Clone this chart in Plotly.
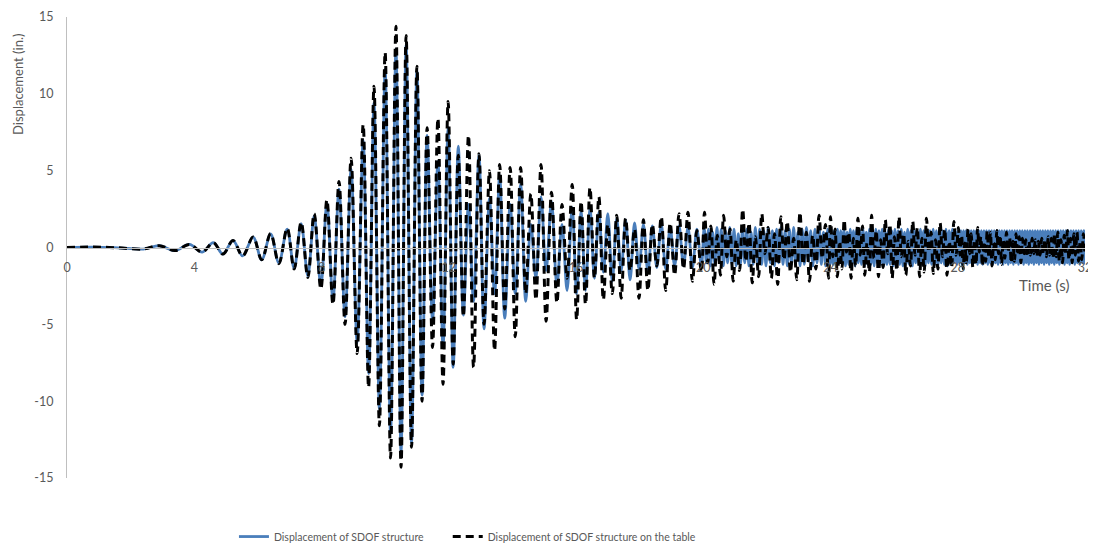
import numpy as np
import plotly.graph_objects as go

# ---------------- data ----------------
# Early part: extrema (peaks / troughs) times in seconds, shared by both series
t_early = [0.0, 0.8, 1.6, 2.4, 2.9, 3.4, 3.85, 4.25, 4.6, 4.9, 5.22, 5.52,
           5.85, 6.12, 6.4, 6.66, 6.92, 7.14, 7.36, 7.57, 7.77, 7.98, 8.17, 8.36,
           8.55, 8.74, 8.93, 9.12, 9.31, 9.48, 9.65, 9.82, 10.0, 10.17, 10.34, 10.5,
           10.66, 10.83, 11.0, 11.16, 11.32, 11.49, 11.66, 11.82, 11.98, 12.14, 12.3, 12.46,
           12.62, 12.78, 12.95, 13.11, 13.28, 13.44, 13.6, 13.76, 13.93, 14.09, 14.26, 14.42,
           14.58, 14.74, 14.9, 15.06, 15.23, 15.4, 15.56, 15.72, 15.88]

table_early = [0, 0.03, -0.02, -0.1, 0.12, -0.2, 0.2, -0.3,
               0.32, -0.43, 0.45, -0.55, 0.68, -0.8, 0.9, -1.05,
               1.25, -1.4, 1.65, -1.95, 2.2, -2.7, 3.1, -3.7,
               4.3, -5.0, 5.8, -6.9, 8.0, -9.1, 10.5, -11.6,
               12.7, -13.7, 14.4, -14.3, 13.8, -13.0, 11.8, -10.0,
               7.8, -6.5, 8.4, -8.9, 9.5, -7.6, 6.0, -4.5,
               7.3, -7.8, 6.1, -5.0, 5.0, -6.7, 5.4, -4.0,
               5.2, -5.8, 5.2, -3.0, 3.5, -3.4, 5.4, -4.8,
               3.6, -3.6, 2.8, -2.0, 4.1]

sdof_early = [0, 0.03, -0.02, -0.1, 0.12, -0.2, 0.2, -0.3,
              0.32, -0.43, 0.45, -0.55, 0.68, -0.8, 0.88, -1.0,
              1.2, -1.35, 1.55, -1.85, 2.05, -2.5, 2.9, -3.4,
              3.8, -4.5, 5.1, -6.2, 7.0, -8.2, 9.4, -10.5,
              11.6, -12.1, 12.9, -13.3, 13.2, -12.7, 11.5, -9.6,
              7.3, -4.8, 5.6, -6.5, 7.8, -7.8, 6.6, -4.4,
              2.8, -3.5, 6.0, -5.3, 3.2, -3.0, 4.7, -4.6,
              2.8, -3.0, 4.1, -3.5, 1.5, -2.0, 3.3, -1.5,
              3.0, -2.5, 1.5, -2.8, 2.6]

# Later, denser parts: extrema read segment by segment (first / last extremum time)
table_seg_first = [16.02, 20.04, 24.0, 28.02]
table_seg_last = [19.94, 23.94, 27.95, 32.0]
sdof_seg_first = [16.02, 20.03, 24.02, 28.02]
sdof_seg_last = [19.94, 23.98, 27.98, 32.0]

table_16 = [-4.7, 3.0, -3.7, 3.9, -2.0, 3.3, -3.4, 1.5, -3.0, 2.1,
            -3.3, 1.9, -1.5, 1.2, -3.3, 1.8, -2.8, 1.5, -1.2, 2.0,
            -2.8, 1.6, -1.8, 2.2, -1.4, 2.3, -2.2, 1.1, -1.6]
sdof_16 = [-3.0, 2.4, -2.8, 2.6, -2.0, 2.3, -1.6, 2.2, -2.2, 1.9,
           -1.5, 1.8, -2.1, 1.6, -1.4, 1.5, -1.6, 1.4, -1.3, 1.5,
           -1.4, 1.3, -1.2, 1.4, -1.2, 1.3, -1.3, 1.2, -1.2]

table_20 = [2.3, -1.0, 1.4, -2.4, 0.8, -1.8, 2.1, -0.6, 1.2, -2.2,
            0.5, -1.5, 2.5, -0.9, 1.6, -2.3, 0.7, -1.9, 2.2, -0.4,
            1.3, -2.0, 0.9, -2.4, 2.0, -0.8, 1.7, -1.6, 0.6, -2.1,
            2.3, -1.1, 1.0, -2.2, 0.8, -1.4, 2.1, -0.7, 1.5, -2.0]
sdof_20 = [1.3, -1.0, 1.2, -1.2, 1.0, -1.1, 1.3, -0.9, 1.2, -1.2,
           1.1, -1.0, 1.3, -1.1, 1.2, -1.2, 0.9, -1.1, 1.3, -1.0,
           1.2, -1.2, 1.0, -1.1, 1.3, -1.0, 1.2, -1.1, 1.1, -1.2,
           1.3, -1.0, 1.1, -1.2, 1.2, -1.0, 1.3, -1.1, 1.1, -1.2,
           1.2, -1.1, 1.3, -1.0, 1.0, -1.2, 1.2, -1.1, 1.3, -0.9,
           1.1, -1.2, 1.2, -1.0, 1.3, -1.1, 1.0, -1.2, 1.2, -1.1]

table_24 = [2.0, -0.6, 1.2, -1.9, 0.4, -1.4, 1.8, -0.3, 1.0, -2.0,
            0.6, -1.2, 1.9, -0.5, 1.4, -1.8, 0.3, -1.6, 2.1, -0.7,
            1.1, -1.9, 0.5, -1.3, 1.8, -0.4, 1.5, -2.0, 0.7, -1.5,
            2.0, -0.6, 0.9, -1.8, 0.4, -1.2, 1.7, -0.5, 1.3, -1.9,
            0.6, -1.6, 1.9, -0.3, 1.0, -1.7, 0.5, -1.4, 1.6, -0.6,
            1.2, -1.8, 0.4, -1.3, 1.7, -0.5]
sdof_24 = [1.2, -1.1, 1.1, -1.2, 1.2, -1.0, 1.1, -1.1, 1.2, -1.2,
           1.0, -1.1, 1.2, -1.1, 1.1, -1.2, 1.2, -1.0, 1.1, -1.1,
           1.2, -1.2, 1.0, -1.1, 1.2, -1.1, 1.1, -1.2, 1.2, -1.0,
           1.1, -1.1, 1.2, -1.2, 1.0, -1.1, 1.2, -1.1, 1.1, -1.2,
           1.2, -1.0, 1.1, -1.1, 1.2, -1.2, 1.0, -1.1, 1.2, -1.1,
           1.1, -1.2, 1.2, -1.0, 1.1, -1.1, 1.2, -1.1, 1.1, -1.2,
           1.2, -1.0, 1.1, -1.1, 1.2, -1.1, 1.1, -1.2, 1.2, -1.0,
           1.1, -1.1, 1.2, -1.2, 1.1, -1.1, 1.2, -1.0, 1.1, -1.1]

table_28 = [1.3, -0.5, 0.8, -1.4, 0.3, -1.0, 1.2, -0.4, 0.9, -1.3,
            0.5, -1.1, 1.3, -0.3, 0.7, -1.2, 0.4, -0.9, 1.1, -0.6,
            1.0, -1.2, 0.3, -0.8, 1.1, -0.4, 0.8, -1.1, 0.5, -0.7,
            1.0, -0.3, 0.6, -1.0, 0.4, -0.9, 0.9, -0.5, 0.7, -1.0,
            0.6, -0.4, 0.5, -0.6, 0.4, -0.5, 0.6, -0.4, 0.5, -0.6,
            0.4, -0.5, 0.6, -0.4, 0.5, -0.6, 0.7, -0.5, 0.6, -0.7,
            0.9, -0.6, 1.0, -0.9, 0.5, -1.0, 0.8, -0.4, 1.1, -0.8,
            0.6, -1.0, 0.9, -0.5, 1.0, -0.9, 0.4, -0.8, 0.9, -0.6]
sdof_28 = [1.1, -1.0, 1.1, -1.1, 1.1, -1.0, 1.1, -1.1, 1.1, -1.0,
           1.1, -1.1, 1.1, -1.0, 1.1, -1.1, 1.1, -1.0, 1.1, -1.1,
           1.1, -1.0, 1.1, -1.1, 1.1, -1.0, 1.1, -1.1, 1.1, -1.0,
           1.1, -1.1, 1.1, -1.0, 1.1, -1.1, 1.1, -1.0, 1.1, -1.1,
           1.1, -1.0, 1.1, -1.1, 1.1, -1.0, 1.1, -1.1, 1.1, -1.0,
           1.1, -1.1, 1.1, -1.0, 1.1, -1.1, 1.1, -1.0, 1.1, -1.1,
           1.1, -1.0, 1.1, -1.1, 1.1, -1.0, 1.1, -1.1, 1.1, -1.0,
           1.1, -1.1, 1.1, -1.0, 1.1, -1.1, 1.1, -1.0, 1.1, -1.1,
           1.1, -1.0, 1.1, -1.1, 1.1, -1.0, 1.1, -1.1, 1.1, -1.0,
           1.1, -1.1, 1.1, -1.0, 1.1, -1.1, 1.1, -1.0, 1.1, -1.1]

x_ticks = [0, 4, 8, 12, 16, 20, 24, 28, 32]
y_ticks = [-15, -10, -5, 0, 5, 10, 15]

series_names = ["Displacement of SDOF structure",
                "Displacement of SDOF structure on the table"]

# ---------------- assemble ----------------
def assemble(t0, v0, firsts, lasts, segs):
    t = list(t0)
    v = list(v0)
    for a, b, seg in zip(firsts, lasts, segs):
        t += list(np.linspace(a, b, len(seg)))
        v += seg
    return t, v

t_table, y_table = assemble(t_early, table_early, table_seg_first, table_seg_last,
                            [table_16, table_20, table_24, table_28])
t_sdof, y_sdof = assemble(t_early, sdof_early, sdof_seg_first, sdof_seg_last,
                          [sdof_16, sdof_20, sdof_24, sdof_28])

FONT = "Lato, 'Open Sans', sans-serif"
GREY = "#595959"

fig = go.Figure()
fig.add_trace(go.Scatter(
    x=t_sdof, y=y_sdof, mode="lines", name=series_names[0],
    line=dict(color="#4A7EBB", width=2.8, shape="spline", smoothing=1.0),
    legend="legend", showlegend=True))
fig.add_trace(go.Scatter(
    x=t_table, y=y_table, mode="lines", name=series_names[1],
    line=dict(color="#000000", width=3, dash="8px,5px", shape="spline", smoothing=1.0),
    legend="legend2", showlegend=True))

# the page body has an 8px margin, so the figure starts 8px in from the window edge
fig.update_layout(
    width=1088, height=540,
    margin=dict(l=59, r=11, t=9, b=70, autoexpand=False),
    plot_bgcolor="white", paper_bgcolor="white",
    showlegend=True,
    font=dict(family=FONT, color=GREY, size=12),
    xaxis=dict(range=[0, 32], tickvals=x_ticks, ticktext=[str(v) for v in x_ticks],
               showgrid=False, zeroline=False, automargin=False,
               showline=True, linecolor="#BFBFBF", linewidth=1,
               anchor="free", position=0.5, ticks="", ticklabeloverflow="allow",
               ticklabelstandoff=8, tickfont=dict(size=12.5, color=GREY)),
    yaxis=dict(range=[-15, 15], tickvals=y_ticks, ticktext=[str(v) for v in y_ticks],
               showgrid=False, zeroline=False, automargin=False,
               showline=True, linecolor="#BFBFBF", linewidth=1, ticks="",
               ticklabeloverflow="allow",
               ticklabelstandoff=10, tickfont=dict(size=12.5, color=GREY)),
    legend=dict(orientation="h", x=0.164, y=-0.127, xanchor="left", yanchor="middle",
                font=dict(size=10.5, color=GREY), bgcolor="rgba(0,0,0,0)",
                visible=True),
    legend2=dict(orientation="h", x=0.374, y=-0.127, xanchor="left", yanchor="middle",
                 font=dict(size=10.5, color=GREY), bgcolor="rgba(0,0,0,0)",
                 visible=True),
    annotations=[
        dict(text="Displacement (in.)", xref="paper", yref="paper",
             x=-0.048, y=0.853, showarrow=False, textangle=-90,
             font=dict(size=13, color=GREY), xanchor="center", yanchor="middle"),
        dict(text="Time (s)", xref="paper", yref="paper",
             x=0.96, y=0.418, showarrow=False,
             font=dict(size=15, color=GREY), xanchor="center", yanchor="middle"),
    ],
)

fig.write_html("out.html")
